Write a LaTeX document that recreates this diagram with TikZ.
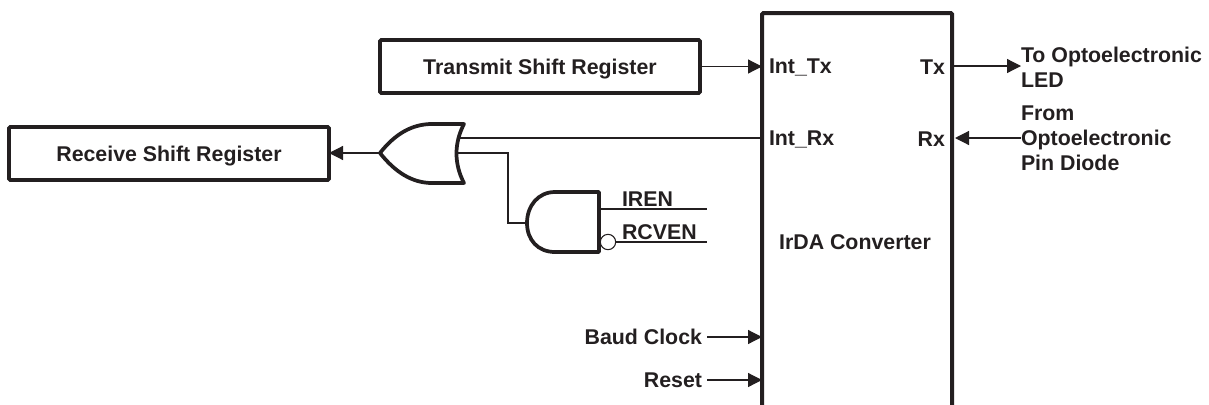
\documentclass[tikz,border=0pt]{standalone}
\usepackage{fontspec}
\setmainfont{Liberation Sans}
\usepackage{tikz}
\usetikzlibrary{positioning, arrows.meta}
\definecolor{ink}{HTML}{231F20}
\tikzstyle{register} = [rectangle, rounded corners=1pt, minimum width=240pt, minimum height=39.75pt, text centered, text height=11.5pt, text depth=0pt, draw=ink, line width=2.8pt, outer sep=0pt, font=\fontsize{16}{18.75}\selectfont\bfseries, text=ink]
\tikzstyle{converter} = [rectangle, rounded corners=1pt, minimum width=142.5pt, minimum height=298pt, draw=ink, line width=3pt, outer sep=0pt]
\tikzstyle{label} = [inner sep=0pt, outer sep=0pt, text=ink, font=\fontsize{16}{18.75}\selectfont\bfseries, align=left]
\tikzstyle{arrow} = [draw=ink, line width=0.9pt, -{Triangle[length=10.5pt,width=10.5pt]}]
\tikzstyle{wire} = [draw=ink, line width=0.8pt]
\tikzstyle{gate} = [draw=ink, line width=2.8pt, line join=round, fill=white]

\begin{document}
\begin{tikzpicture}[x=0.75pt, y=-0.75pt]
        \useasboundingbox (0,0) rectangle (1209,404);

        % converter
        \node[converter, anchor=north west] (Conv) at (762,13) {};
        \node[label] (IrDA) at (855,242) {IrDA Converter};
        \node[label, anchor=west] (IntTx) at (769,67) {Int\_Tx};
        \node[label, anchor=west] (IntRx) at (769,139) {Int\_Rx};
        \node[label, anchor=east] (Tx) at (945,67) {Tx};
        \node[label, anchor=east] (Rx) at (945,139) {Rx};

        % registers
        \node[register, anchor=west] (Transmit) at (380,66.5) {Transmit Shift Register};
        \node[register, anchor=west] (Receive) at (9,153.5) {Receive Shift Register};

        % optoelectronic side
        \node[label, anchor=west] (ToLED) at (1021,67) {To Optoelectronic\\LED};
        \node[label, anchor=west] (FromDiode) at (1021,138) {From\\Optoelectronic\\Pin Diode};

        % clock and reset
        \node[label, anchor=east] (Baud) at (702,337) {Baud Clock};
        \node[label, anchor=east] (Reset) at (702,380) {Reset};

        % or gate
        \coordinate (OrOut) at (380,153);
        \coordinate (OrIn1) at (457,138);
        \coordinate (OrIn2) at (457,153);
        \draw[gate] (OrOut) .. controls (395,134) and (412,124) .. (432,124) -- (464,124)
            .. controls (454,143) and (454,164) .. (464,183) -- (432,183)
            .. controls (412,183) and (395,172) .. (OrOut) -- cycle;

        % and gate
        \coordinate (AndOut) at (527,223);
        \coordinate (AndIn1) at (599,209);
        \draw[gate] (599,192) -- (555,192) .. controls (538,192) and (527,206) .. (AndOut)
            .. controls (527,240) and (538,252) .. (555,252) -- (599,252) -- cycle;
        \node[circle, draw=ink, line width=0.8pt, inner sep=0pt, outer sep=0pt, minimum size=11.5pt] (Bubble) at (608,242) {};
        \node[label, anchor=base west] (IREN) at (622,206) {IREN};
        \node[label, anchor=base west] (RCVEN) at (622,239) {RCVEN};
        \coordinate (IrenEnd) at (707,209);
        \coordinate (RcvenEnd) at (707,242);

        % optoelectronic pins
        \coordinate (TxPin) at (954,66);
        \coordinate (RxPin) at (955,138);

        % connectors
        \draw [arrow] (Transmit) -- (Transmit -| Conv.west);
        \draw [arrow] (OrOut) -- (OrOut -| Receive.east);
        \draw [wire] (OrIn1 -| Conv.west) -- (OrIn1);
        \draw [wire] (OrIn2) -| (508,223) -- (AndOut);
        \draw [wire] (AndIn1) -- (IrenEnd);
        \draw [wire] (Bubble) -- (RcvenEnd);
        \draw [arrow] (TxPin) -- (TxPin -| ToLED.west);
        \draw [arrow] (RxPin -| FromDiode.west) -- (RxPin);
        \draw [arrow] (707,337) -- (Baud -| Conv.west);
        \draw [arrow] (707,380) -- (Reset -| Conv.west);
\end{tikzpicture}
\end{document}
